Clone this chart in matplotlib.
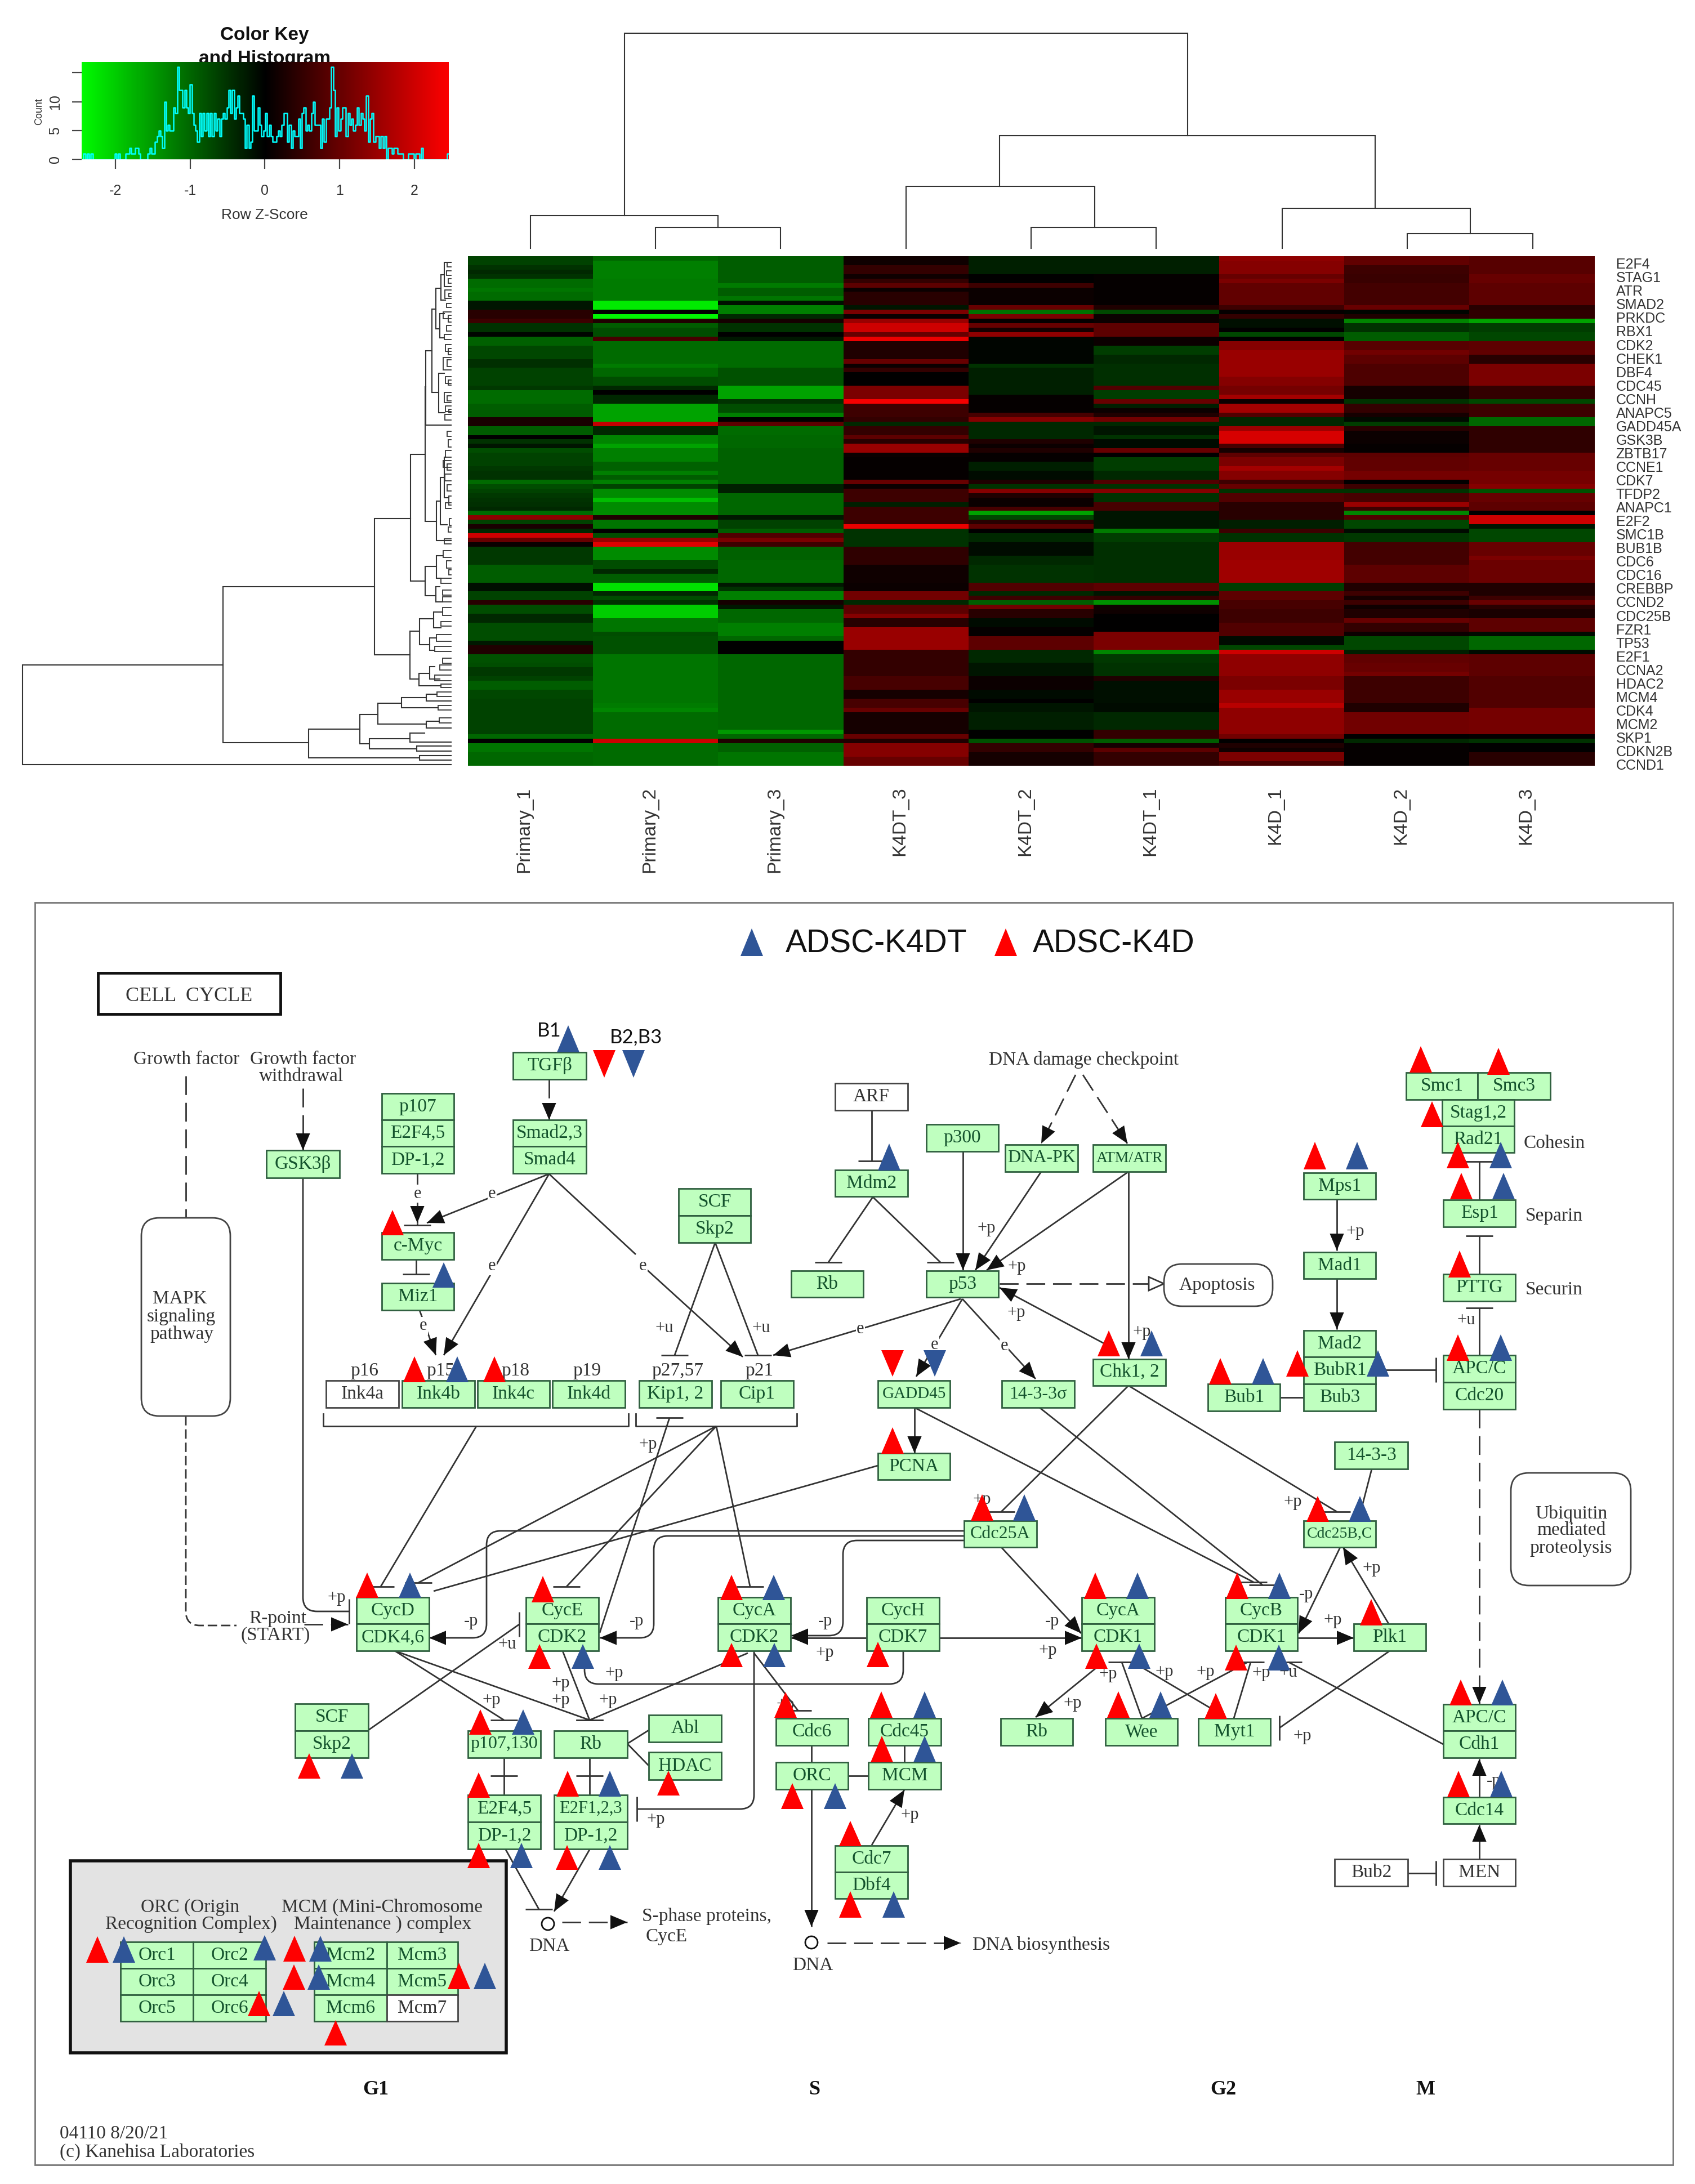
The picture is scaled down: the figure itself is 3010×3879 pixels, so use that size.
import numpy as np
import matplotlib
matplotlib.use("Agg")
import matplotlib.pyplot as plt
from matplotlib.colors import LinearSegmentedColormap
from matplotlib.patches import FancyBboxPatch, Circle, Rectangle, PathPatch
from matplotlib.path import Path

W, H = 3010, 3879

# heatmap values, row z-score, one list per column (top row first)
primary_1 = [-.65,-.65,-.5,-.4,-.5,-1.05,-1.05,-1.15,-1.05,-1.05,
 -.2,-.2,.4,.4,.6,-.5,-.5,-.05,-.95,-.95,
 -.7,-.7,-.7,-.45,-.45,-.65,-.65,-.65,-.65,-.55,
 -1.05,-1.05,-1.05,-.9,-.9,-.9,.25,.25,-.9,-.9,
 0,-.5,-.2,-.75,-.65,-.65,-.65,-.55,-.5,-.5,
 -1.05,-.75,-.65,-.55,-.5,-.45,-.4,-1.05,1.4,-.65,
 .25,-.4,2.0,1.0,.1,-.55,-.55,-.55,-.55,-.9,
 -.9,-.9,-.9,-.15,-.15,-.65,-.65,.4,-.75,-.75,
 -.4,-.4,-.75,-.75,-.75,-.75,-.25,.3,.3,-.8,
 -.8,-.75,-.55,-.55,-.65,-.9,-.9,-.7,-.7,-.65,
 -.65,-.65,-.65,-.65,-.65,-.65,-.65,-1,0,-1.15,-1.15,-1,-1,-1]
primary_2 = [-1,-1.25,-1.25,-1.25,-1.25,-1.2,-1.2,-1.2,-1.2,-1.2,
 -2.3,-2.3,0,-2.4,.3,-.9,-.75,-.75,.7,-1.05,
 -1.05,-1.05,-1.05,-1.05,-1.2,-1,-1,-.75,-.75,-.4,
 0,-.4,-.4,-1.6,-1.6,-1.6,-1.6,1.9,-.4,-.4,
 -1.3,-1.3,-1.6,-1.25,-1.25,-1.25,-.95,-.95,-1.25,-.9,
 -1.25,-.65,-1.35,-1.35,-1.85,-1.35,-1.35,-1.35,.3,-1.15,
 -1.15,0,-.75,1.5,2.2,-1.35,-1.35,-1.35,-.75,-.75,
 -.4,-.9,-.9,-2.2,-2.2,-.4,-.75,-.5,-2,-2,
 -2,-1.15,-1.15,-1.15,-.75,-.8,-.8,-.8,-.8,-1.15,
 -1.15,-1.15,-1.15,-1.15,-1.15,-1.15,-1.15,-1.15,-1.15,-1.15,
 -1.2,-1.3,-1.05,-1.05,-1.05,-1.05,-1.05,-1.05,2.0,-1.05,-1.05,-1.05,-1.05,-1.05]
primary_3 = [-.9,-.9,-.9,-.9,-.9,-.9,-1.2,-.9,-.9,-1.15,
 -.15,-1.25,-1.25,-.4,.2,-.5,-.5,0,-.25,-1.05,
 -1.05,-1.05,-1.05,-1.05,-1.05,-.8,-.8,-.8,-.8,-1.6,
 -1.6,-1.6,-.5,-.75,-.75,-1.25,0,.9,-1.05,-1.05,
 -1,-1,-1,-.95,-.95,-.95,-.95,-.95,-.95,-.95,
 -.95,-.3,-.3,-1,-1,-1,-1,-1,-.25,-.65,
 -.65,-.9,.8,1.2,.6,-.95,-.95,-.95,-1,-1,
 -1,-1,-1,-.25,-.5,-1.25,-1.25,.2,-.25,-1,
 -1,-1,-1.25,-1.25,-1.25,-1,0,0,0,-1,
 -1,-1,-1,-1,-1,-1,-1,-1,-1,-1,
 -1,-1,-1,-1,-1,-1,-1.5,-1,.3,-.95,-.95,-1.15,-1.15,-1.15]
k4dt_3 = [.15,.15,.5,.5,.15,.5,.9,.1,.4,.4,
 .4,-.2,1.2,.1,1.5,2,2,1,2.3,.3,
 .3,.3,.3,1,.1,.5,0,0,0,1.2,
 1.2,1.2,2.4,.6,.6,.6,.5,-.4,.5,.5,
 .9,.4,1.5,1.5,.1,.05,.05,.05,.05,.05,
 1,.1,.6,.6,.6,-.3,.6,.6,.6,.6,
 2.3,-.5,-.5,-.5,-.5,.45,.45,.45,.45,.15,
 .15,.15,.15,.1,.1,1.1,1.1,-.4,.9,.9,
 1.3,.4,.4,1.5,1.5,1.5,1.5,1.5,.5,.5,
 .5,.5,.5,.5,.7,.7,.7,.2,.2,.7,
 .7,1,.2,.2,.2,.2,.2,1,.3,1.3,1.3,1.3,1,1]
k4dt_2 = [-.3,-.3,-.3,-.3,0,0,.6,.1,.1,.1,
 .1,1,-1.1,1.2,.05,1,.2,1.4,-.05,-.05,
 -.05,-.05,-.05,-.05,-.5,-.3,-.3,-.3,-.3,-.3,
 -.3,.05,.05,.05,.05,.7,1.3,-.4,-.4,-.4,
 -.4,.3,.1,.3,.05,.05,-.3,-.3,-.1,-.1,
 .3,-.5,1.3,.3,.1,.1,.7,-1.6,-.7,.4,
 .9,0,-.4,-.4,-.1,-.1,-.1,-.4,-.4,-.5,
 -.5,-.5,-.5,.8,.8,-.4,.6,-.9,1.1,.4,
 .4,-.1,-.1,.05,.05,.9,.9,.9,-.4,-.4,
 -.4,-.2,-.2,-.2,.1,.1,.1,-.1,-.1,0,
 -.2,-.2,-.3,-.3,-.3,-.3,0,0,-.8,.5,.5,.2,.2,.2]
k4dt_1 = [-.3,-.3,-.3,-.3,.05,.05,.05,.05,.05,.05,
 .05,.3,-.7,.1,.1,.9,.9,.9,.1,.1,
 -.6,-.6,-.4,-.4,-.45,-.45,-.45,-.45,-.45,.8,
 -.6,-.6,1,-.3,.1,.3,1.1,-.4,-.2,-.2,
 -.5,-.1,-.1,1,0,-.6,-.6,-.6,-.4,-.4,
 .8,-.5,1.3,-.5,-.5,.7,.7,-.2,-.2,-.2,
 -.2,-1.2,-.6,-.6,-.45,-.45,-.45,-.45,-.45,-.45,
 -.45,-.45,-.45,.9,.9,-.2,.5,-1.4,.15,.15,
 0,0,0,0,1.2,1.2,1.2,1.2,-1.3,-.55,
 -.55,-.5,-.5,-.5,.3,-.15,-.15,-.15,-.15,-.15,
 -.1,-.1,-.4,-.4,-.4,-.4,.5,.5,-.9,.2,.9,.5,.5,.5]
k4d_1 = [1.4,1.3,1.3,1.3,1,1.2,.95,.95,.95,.95,
 .95,.6,.05,.5,-.15,-.15,0,-.7,0,1.3,
 1.3,1.5,1.5,1.5,1.5,1.5,1.5,1.3,1.3,1.15,
 1.15,1.6,.1,1.6,1.6,.8,-.4,-.4,1.5,2.1,
 2.1,2.1,.7,.2,.9,1.2,1.2,1.6,1.3,1.3,
 .6,1,-.5,.8,.8,.4,.4,.4,.4,-.3,
 -.3,.6,-.5,-.5,1.5,1.5,1.5,1.5,1.55,1.55,
 1.55,1.55,1.55,-.6,-.6,.9,.9,.7,.7,.6,
 .6,.6,.8,.8,.8,-.1,-.1,-.7,2,1.4,
 1.4,1.4,1.4,1.4,1.2,1.2,1.2,1.5,1.5,1.5,
 1.8,1.4,1.4,1.4,1.4,1.4,1.4,1.1,0,.3,.15,1.2,1.2,.7]
k4d_2 = [.95,.95,.6,.6,.55,.55,.65,.65,.65,.65,
 .65,1,-.05,.3,-1.3,-.5,-.5,-.9,-.9,.85,
 .85,1.1,.9,.9,.75,.75,.75,.75,.75,.2,
 .2,.2,-.5,.5,.5,.2,-.1,-.6,.4,.1,
 .1,.1,.05,.05,.9,.95,.95,.95,1.15,1.15,
 0,.6,-.5,.7,.7,1.5,.6,-1.3,.8,-.7,
 -.7,-.1,-.55,-.55,.65,.65,.65,.65,.65,.9,
 .9,.9,.9,.3,.3,.6,.2,.6,.15,.3,
 .3,1,.5,.5,.1,-.7,-.7,-.7,-.3,.95,
 .95,1,1,1.15,.6,.6,.6,.6,.6,.6,
 .3,.3,1.1,1.1,1.1,1.1,1.1,0,-.4,.05,.05,.05,.05,.05]
k4d_3 = [.85,.85,.85,.85,1,1,.9,.9,.9,.9,
 .9,.4,.45,.45,-1.6,-.6,-.6,-.7,-.7,.9,
 .9,.95,.4,.4,1.2,1.2,1.2,1.2,1.2,.5,
 .5,.5,-.7,.6,.6,.6,-1,-1,.45,.45,
 .45,.45,.45,.45,1,1,1,1,1.15,1.15,
 1.15,1.3,-.8,1,1,.9,.9,0,2,2,
 -.2,-.7,-.7,-.7,1,1,1,1.2,1.05,1.05,
 1.05,1.05,1.05,.3,.3,.3,.6,1,.4,.25,
 .25,.9,.9,.9,-.1,-1,-1,-1,-.1,.9,
 .9,.9,.9,.9,.8,.8,.8,.8,.8,.8,
 .8,1.15,1.15,1.15,1.15,1.15,1.15,.05,-.5,0,0,.4,.4,.4]

sample_names = ["Primary_1", "Primary_2", "Primary_3", "K4DT_3", "K4DT_2", "K4DT_1", "K4D_1", "K4D_2", "K4D_3"]
gene_names = ["E2F4", "STAG1", "ATR", "SMAD2", "PRKDC", "RBX1", "CDK2", "CHEK1", "DBF4", "CDC45", "CCNH", "ANAPC5",
              "GADD45A", "GSK3B", "ZBTB17", "CCNE1", "CDK7", "TFDP2", "ANAPC1", "E2F2", "SMC1B", "BUB1B", "CDC6",
              "CDC16", "CREBBP", "CCND2", "CDC25B", "FZR1", "TP53", "E2F1", "CCNA2", "HDAC2", "MCM4", "CDK4", "MCM2",
              "SKP1", "CDKN2B", "CCND1"]

# colour key histogram, counts per bin
hist_counts = [0,1,0,1,0,1,0,0,0,0, 0,0,0,0,0,0,0,0,1,0, 1,0,0,0,1,1,2,1,1,2, 2,1,0,0,0,0,1,2,1,1,
 3,4,5,4,2,10,5,6,5,5, 9,8,16,12,12,9,12,9,8,13, 8,6,5,3,8,4,8,5,8,4, 8,4,8,5,7,4,7,8,7,9,
 12,8,12,7,9,11,8,8,7,2, 6,2,3,11,5,5,9,6,4,5, 8,4,6,4,3,3,4,5,4,6, 8,8,3,6,2,5,4,4,7,2,
 8,9,5,6,5,8,10,6,6,6, 2,7,3,7,7,9,16,12,4,9, 5,7,9,9,4,8,6,7,5,6, 9,6,8,7,5,11,3,7,8,3,
 4,4,2,4,2,4,0,2,2,1, 2,2,1,1,1,0,0,0,1,1, 1,0,1,1,0,2,0,0,0,0, 0,0,0,0,0,0,0,0,0,1]

# column dendrogram: left x, right x, height, left end, right end
col_tree = [(1109,2109,59,383,241), (942,1275,383,441,404), (1164,1386,404,441,441), (1775,2442,241,331,370),
            (1609,1944,331,441,404), (1831,2053,404,441,441), (2277,2611,370,441,415), (2499,2722,415,441,441)]

# row dendrogram, in a 1568x1568 frame: x, top y, bottom y, top end, bottom end
row_tree = [(73,1240,1532,730,1478), (730,1010,1468,1227,1010), (1227,810,1210,1345,1343), (1345,622,993,1392,1392),
            (1392,425,818,1395,1430), (1395,318,537,1415,1478), (1415,197,440,1428,1437), (1428,135,255,1445,1440),
            (1445,95,170,1455,1460), (1455,60,130,1478,1478), (1440,210,280,1455,1455), (1437,385,500,1455,1458),
            (1430,760,875,1443,1478), (1443,690,828,1455,1465), (1455,630,750,1460,1470), (1392,950,1037,1430,1428),
            (1430,920,985,1450,1445), (1428,1010,1055,1440,1450), (1343,1140,1280,1375,1372), (1375,1105,1180,1420,1408),
            (1420,1085,1130,1450,1445), (1408,1160,1197,1430,1425), (1372,1265,1300,1408,1445), (1408,1245,1280,1425,1440),
            (1010,1428,1512,1178,1375), (1178,1385,1470,1238,1210), (1238,1352,1413,1315,1397), (1315,1335,1365,1397,1435),
            (1397,1325,1345,1432,1478), (1397,1405,1425,1438,1478), (1210,1455,1485,1343,1365), (1343,1440,1465,1390,1478),
            (1365,1478,1492,1478,1478), (1375,1505,1518,1478,1478)]
leaf_pairs = [(1465,60,72),(1462,85,98),(1468,108,120),(1458,140,165),(1470,150,160),(1462,180,192),(1452,205,225),
              (1468,215,235),(1462,245,260),(1455,270,285),(1460,300,320),(1468,312,330),(1452,338,375),(1465,345,365),
              (1460,395,415),(1468,405,420),(1455,440,470),(1465,450,465),(1460,480,497),(1470,490,500),(1458,505,522),
              (1465,555,570),(1468,580,600),(1460,610,630),(1452,640,660),(1465,650,668),(1458,680,700),(1465,712,730),
              (1470,745,770),(1460,765,780),(1472,810,830),(1468,835,850),(1455,870,885),(1452,905,925),(1462,935,955),
              (1470,960,975),(1445,985,1000),(1450,1020,1035),(1450,1040,1055),(1450,1072,1095),(1445,1112,1125),
              (1430,1150,1170),(1425,1185,1200),(1450,1220,1235),(1440,1240,1255),(1425,1270,1285),(1445,1295,1305),
              (1432,1318,1332),(1435,1358,1372),(1438,1395,1410)]

# pathway nodes: x0, x1, y0, y1, label
green_boxes = [
    (473,603,2043,2092,"GSK3β"), (678,806,1942,1989,"p107"), (678,806,1989,2036,"E2F4,5"), (678,806,2036,2084,"DP-1,2"),
    (911,1041,1869,1917,"TGFβ"), (911,1041,1989,2036,"Smad2,3"), (911,1041,2036,2084,"Smad4"),
    (678,806,2189,2237,"c-Myc"), (678,806,2279,2327,"Miz1"), (1205,1333,2111,2159,"SCF"), (1205,1333,2159,2207,"Skp2"),
    (714,843,2452,2500,"Ink4b"), (848,976,2452,2500,"Ink4c"), (981,1110,2452,2500,"Ink4d"),
    (1135,1264,2452,2500,"Kip1, 2"), (1280,1409,2452,2500,"Cip1"),
    (1483,1612,2078,2125,"Mdm2"), (1645,1773,1997,2045,"p300"), (1785,1914,2033,2081,"DNA-PK"), (1941,2070,2033,2081,"ATM/ATR"),
    (1405,1533,2257,2304,"Rb"), (1645,1773,2257,2304,"p53"), (1941,2070,2414,2461,"Chk1, 2"), (1559,1687,2452,2500,"GADD45"),
    (1779,1908,2452,2500,"14-3-3σ"), (1559,1687,2581,2628,"PCNA"), (2315,2443,2083,2130,"Mps1"), (2315,2443,2224,2271,"Mad1"),
    (2315,2443,2363,2410,"Mad2"), (2315,2443,2410,2458,"BubR1"), (2315,2443,2458,2506,"Bub3"), (2145,2273,2458,2506,"Bub1"),
    (2497,2624,1905,1953,"Smc1"), (2624,2753,1905,1953,"Smc3"), (2561,2689,1953,2000,"Stag1,2"), (2561,2689,2000,2047,"Rad21"),
    (2563,2691,2131,2179,"Esp1"), (2563,2691,2263,2311,"PTTG"), (2563,2691,2407,2455,"APC/C"), (2563,2691,2455,2503,"Cdc20"),
    (2370,2500,2561,2609,"14-3-3"),
    (633,762,2837,2884,"CycD"), (633,762,2884,2932,"CDK4,6"), (934,1063,2837,2884,"CycE"), (934,1063,2884,2932,"CDK2"),
    (1275,1404,2837,2884,"CycA"), (1275,1404,2884,2932,"CDK2"), (524,654,3026,3074,"SCF"), (524,654,3074,3122,"Skp2"),
    (831,960,3074,3122,"p107,130"), (984,1114,3074,3122,"Rb"), (1152,1281,3046,3094,"Abl"), (1152,1281,3112,3161,"HDAC"),
    (831,960,3188,3236,"E2F4,5"), (831,960,3236,3284,"DP-1,2"), (984,1114,3188,3236,"E2F1,2,3"), (984,1114,3236,3284,"DP-1,2"),
    (1378,1506,3052,3100,"Cdc6"), (1378,1506,3130,3178,"ORC"), (1542,1671,3052,3100,"Cdc45"), (1542,1671,3130,3178,"MCM"),
    (1483,1612,3278,3325,"Cdc7"), (1483,1612,3325,3372,"Dbf4"), (1539,1668,2837,2884,"CycH"), (1539,1668,2884,2932,"CDK7"),
    (1712,1841,2701,2748,"Cdc25A"), (2315,2443,2701,2748,"Cdc25B,C"), (1921,2050,2837,2884,"CycA"), (1921,2050,2884,2932,"CDK1"),
    (2176,2304,2837,2884,"CycB"), (2176,2304,2884,2932,"CDK1"), (2404,2532,2884,2932,"Plk1"), (1777,1905,3052,3100,"Rb"),
    (1963,2091,3052,3100,"Wee"), (2128,2256,3052,3100,"Myt1"), (2563,2691,3027,3074,"APC/C"), (2563,2691,3074,3122,"Cdh1"),
    (2563,2691,3192,3239,"Cdc14"),
    (214,343,3449,3496,"Orc1"), (343,472,3449,3496,"Orc2"), (214,343,3496,3543,"Orc3"), (343,472,3496,3543,"Orc4"),
    (214,343,3543,3590,"Orc5"), (343,472,3543,3590,"Orc6"), (558,687,3449,3496,"Mcm2"), (687,813,3449,3496,"Mcm3"),
    (558,687,3496,3543,"Mcm4"), (687,813,3496,3543,"Mcm5"), (558,687,3543,3590,"Mcm6"),
]
white_boxes = [(579,708,2452,2500,"Ink4a"), (1483,1612,1924,1972,"ARF"), (2370,2500,3302,3350,"Bub2"),
               (2563,2691,3302,3350,"MEN"), (687,813,3543,3590,"Mcm7")]
rounded_boxes = [(251,409,2163,2515), (2067,2260,2245,2320), (2683,2896,2616,2816)]

# triangles: centre x, apex y, base y
red_up = [(697,2149,2194),(736,2409,2455),(878,2409,2455),(1585,2535,2582),(1969,2363,2409),(2335,2028,2077),
          (2523,1858,1905),(2661,1861,1909),(2543,1956,2002),(2589,2028,2075),(2595,2083,2130),(2592,2221,2269),
          (2589,2370,2417),(2304,2398,2445),(2167,2412,2459),(1744,2654,2701),(2340,2657,2703),(652,2793,2838),
          (964,2799,2846),(958,2920,2964),(1299,2797,2842),(1299,2918,2961),(549,3114,3159),(853,3036,3081),
          (850,3148,3193),(1008,3145,3191),(850,3273,3318),(1007,3277,3321),(1187,3145,3189),(173,3439,3486),
          (523,3438,3484),(522,3489,3534),(815,3486,3533),(460,3536,3581),(596,3588,3633),(1395,3005,3051),
          (1407,3167,3213),(1559,2916,2961),(1565,3004,3051),(1566,3083,3130),(1510,3234,3279),(1510,3359,3406),
          (1945,2793,2840),(1947,2919,2964),(2197,2793,2840),(2195,2921,2967),(2435,2840,2887),(1986,3004,3051),
          (2159,3007,3053),(2594,2983,3029),(2590,3145,3192),(1786,1649,1698)]
blue_up = [(1009,1821,1869),(788,2242,2287),(812,2409,2455),(1579,2031,2079),(2045,2363,2409),(2410,2028,2077),
           (2665,2028,2075),(2670,2083,2130),(2665,2370,2417),(2447,2398,2445),(2243,2412,2459),(1819,2654,2701),
           (2415,2657,2703),(728,2793,2838),(1035,2920,2964),(1374,2797,2842),(1375,2918,2961),(625,3114,3159),
           (929,3036,3081),(1083,3145,3191),(926,3273,3318),(1083,3277,3321),(220,3439,3486),(470,3437,3482),
           (569,3438,3484),(566,3489,3534),(861,3486,3533),(504,3536,3581),(1483,3167,3213),(1642,3004,3051),
           (1642,3083,3130),(1587,3359,3406),(2020,2793,2840),(2023,2919,2964),(2272,2793,2840),(2271,2921,2967),
           (2061,3004,3051),(2668,2983,3029),(2666,3145,3192),(1335,1649,1698)]
red_down = [(1073,1865,1914),(1585,2398,2445)]
blue_down = [(1125,1865,1914),(1660,2398,2445)]

# edges: kind, x0, y0, x1, y1. a arrow, h/v flat bar, l plain, d dashed, da dashed arrow
edges = [
    ("d",330,1911,330,2163), ("da",538,1933,538,2043), ("da",975,1917,975,1989), ("l",741,2084,741,2120),
    ("a",741,2120,741,2172), ("h",741,2172,741,2176), ("a",975,2085,758,2172), ("a",975,2085,788,2407), ("l",975,2085,1129,2228),
    ("a",1142,2249,1319,2410), ("h",739,2237,739,2263), ("a",745,2327,774,2407), ("h",1270,2207,1198,2407),
    ("h",1270,2207,1346,2407), ("a",1706,2307,1373,2407), ("h",846,2533,676,2818), ("h",1272,2533,743,2811),
    ("h",1272,2533,1006,2818), ("h",1272,2533,1332,2818), ("h",1065,2900,1189,2518), ("l",1559,2603,770,2826),
    ("a",1539,2909,1405,2909), ("a",1668,2909,1921,2909), ("a",1778,2748,1920,2901), ("h",2004,2461,1778,2685),
    ("h",2004,2461,2374,2685), ("a",2004,2081,2004,2414), ("l",2436,2609,2415,2690), ("h",1624,2500,2226,2810),
    ("h",1846,2500,2242,2815), ("a",1624,2500,1624,2581), ("a",1709,2307,1627,2445), ("a",1709,2307,1839,2449),
    ("a",1966,2389,1775,2287), ("h",1550,2126,1471,2242), ("h",1550,2126,1670,2242), ("h",1548,1972,1548,2062),
    ("a",1710,2045,1710,2256), ("a",1849,2081,1732,2256), ("a",2004,2081,1752,2256), ("da",1910,1909,1849,2031),
    ("da",1923,1909,2002,2031), ("a",2374,2131,2374,2221), ("a",2374,2271,2374,2361), ("l",2273,2482,2315,2482),
    ("v",2443,2433,2550,2433), ("h",2627,2407,2627,2323), ("h",2627,2263,2627,2195), ("h",2627,2131,2627,2063),
    ("da",2627,2503,2627,3026), ("h",2563,3098,2288,2952), ("a",2627,3191,2627,3124), ("a",2627,3302,2627,3241),
    ("v",2500,3327,2550,3327), ("a",2466,2884,2385,2748), ("a",2380,2748,2306,2901), ("a",2304,2909,2404,2909),
    ("v",2468,2932,2272,3069), ("a",1947,2962,1839,3050), ("h",2028,3052,1992,2952), ("h",2028,3052,2216,2952),
    ("h",2191,3052,2221,2952), ("h",2150,3034,2012,2952), ("h",701,2932,895,3055), ("h",701,2932,1047,3055),
    ("h",999,2932,1047,3055), ("h",1328,2936,1047,3055), ("v",654,3073,922,2885), ("h",1339,2936,1417,3038),
    ("h",895,3122,895,3154), ("l",895,3154,895,3188), ("h",1047,3122,1047,3154), ("l",1047,3154,1047,3188),
    ("l",1152,3073,1114,3097), ("l",1152,3136,1114,3097), ("l",1441,3100,1441,3130), ("a",1441,3178,1441,3422),
    ("l",1506,3154,1542,3154), ("l",1606,3100,1606,3130), ("a",1548,3277,1606,3179), ("da",1469,3451,1706,3451),
    ("h",898,3285,957,3391), ("a",1047,3285,984,3395), ("da",998,3414,1114,3414), ("da",540,2885,618,2885),
]
# rounded lines: corner points, end kind, dashed
routes = [
    ([(330,2515),(330,2887),(420,2887)], "l", True),
    ([(538,2092),(538,2862),(620,2862)], "v", False),
    ([(1712,2719),(864,2719),(864,2909),(762,2909)], "a", False),
    ([(1712,2728),(1161,2728),(1161,2909),(1065,2909)], "a", False),
    ([(1712,2736),(1497,2736),(1497,2905),(1405,2905)], "a", False),
    ([(1604,2932),(1604,2991),(1038,2991),(1038,2964)], "l", False),
    ([(1339,2932),(1339,3213),(1131,3213)], "v", False),
]
brackets = [(574,1116,2511,2533), (1129,1415,2511,2533)]

# small labels: x, y, text
serif_labels = [
    (331,1882,"Growth factor"), (538,1882,"Growth factor"), (535,1912,"withdrawal"), (319,2307,"MAPK"), (322,2339,"signaling"),
    (323,2370,"pathway"), (493,2875,"R-point"), (489,2905,"(START)"), (647,2435,"p16"), (782,2435,"p15"), (915,2435,"p18"),
    (1042,2435,"p19"), (1203,2435,"p27,57"), (1348,2435,"p21"), (1925,1882,"DNA damage checkpoint"), (2161,2283,"Apoptosis"),
    (2790,2688,"Ubiquitin"), (2790,2718,"mediated"), (2790,2750,"proteolysis"), (338,3388,"ORC (Origin"),
    (339,3418,"Recognition Complex)"), (678,3388,"MCM (Mini-Chromosome"), (680,3418,"Maintenance ) complex"),
    (975,3457,"DNA"), (1443,3491,"DNA"), (2760,2031,"Cohesin"), (2760,2160,"Separin"), (2760,2291,"Securin"),
]
left_labels = [(1140,3404,"S-phase proteins,"), (1147,3440,"CycE"), (1727,3455,"DNA biosynthesis"),
               (106,3790,"04110 8/20/21"), (106,3822,"(c) Kanehisa Laboratories")]
phase_labels = [(667,3712,"G1"), (1446,3712,"S"), (2172,3712,"G2"), (2531,3712,"M")]
mod_labels = [
    (1180,2358,"+u"), (1352,2358,"+u"), (1752,2182,"+p"), (1806,2249,"+p"), (1805,2332,"+p"), (2028,2365,"+p"), (2407,2188,"+p"),
    (2604,2344,"+u"), (1151,2565,"+p"), (1744,2664,"+p"), (2296,2667,"+p"), (598,2838,"+p"), (837,2879,"-p"), (1131,2879,"-p"),
    (1466,2879,"-p"), (1869,2879,"-p"), (2320,2832,"-p"), (2367,2877,"+p"), (2436,2785,"+p"), (901,2920,"+u"), (1091,2971,"+p"),
    (1465,2936,"+p"), (1861,2932,"+p"), (873,3020,"+p"), (996,3020,"+p"), (996,2989,"+p"), (1080,3020,"+p"), (1165,3232,"+p"),
    (1395,3028,"+p"), (1616,3224,"+p"), (1905,3025,"+p"), (1968,2973,"+p"), (2068,2970,"+p"), (2141,2970,"+p"), (2240,2971,"+p"),
    (2288,2971,"+u"), (2313,3083,"+p"), (2653,3163,"-p"),
]
e_labels = [(741,2120), (874,2120), (874,2249), (1142,2249), (752,2355), (1528,2360), (1660,2389), (1783,2391)]
dna_circles = [(973,3417), (1441,3450)]

# font sizes for the labels that are squeezed into their box
squeezed = {"ATM/ATR": 20, "GADD45": 21, "Cdc25B,C": 20, "E2F1,2,3": 22, "p107,130": 23, "DNA-PK": 23, "14-3-3σ": 23, "Cdc25A": 23}

plt.rcParams["font.family"] = ["Liberation Serif", "DejaVu Serif"]
ink = "#333333"
fig = plt.figure(figsize=(W / 100, H / 100), dpi=100)

def axes_px(x0, y0, x1, y1):
    return fig.add_axes([x0 / W, 1 - y1 / H, (x1 - x0) / W, (y1 - y0) / H])

ax = fig.add_axes([0, 0, 1, 1])
ax.set_xlim(0, W)
ax.set_ylim(H, 0)
ax.axis("off")

# colour key
ax.text(470, 63, "Color Key", family="Liberation Sans", weight="bold", fontsize=24, ha="center", va="center", color="#111111")
ax.text(470, 104, "and Histogram", family="Liberation Sans", weight="bold", fontsize=24, ha="center", va="center", color="#111111")
ax.text(470, 382, "Row Z-Score", family="Liberation Sans", fontsize=19, ha="center", va="center", color=ink)
ax.text(70, 198, "Count", family="Liberation Sans", fontsize=13, rotation=90, ha="center", va="center", color=ink)

cmap = LinearSegmentedColormap.from_list("gbr", ["#00ff00", "#000000", "#ff0000"])
key = axes_px(145, 110, 797, 283)
key_left, key_right = -2.45, 2.46
key.imshow(np.linspace(key_left, key_right, 256)[None, :], extent=(key_left, key_right, 0, 16.9), aspect="auto",
           cmap=cmap, vmin=-2.5, vmax=2.5)
bin_edges = np.linspace(key_left, key_right, len(hist_counts) + 1)
key.step(bin_edges, list(hist_counts) + [hist_counts[-1]], where="post", color="#00ffff", lw=1.8)
key.set_xlim(key_left, key_right)
key.set_ylim(0, 16.9)
for s in key.spines.values():
    s.set_visible(False)
key.set_xticks([-2, -1, 0, 1, 2])
key.set_xticklabels(["-2", "-1", "0", "1", "2"], family="Liberation Sans", fontsize=18, color=ink)
key.set_yticks([0, 5, 10, 15])
key.set_yticklabels(["0", "5", "10", ""], family="Liberation Sans", fontsize=18, color=ink, rotation=90, va="center")
key.tick_params(length=12, width=1.6, color="#444444")
key.tick_params(axis="x", pad=20)
key.tick_params(axis="y", pad=13)

# heatmap
z = np.array([primary_1, primary_2, primary_3, k4dt_3, k4dt_2, k4dt_1, k4d_1, k4d_2, k4d_3]).T
hm = axes_px(831, 455, 2832, 1360)
hm.imshow(z, aspect="auto", cmap=cmap, vmin=-2.5, vmax=2.5, interpolation="nearest")
for s in hm.spines.values():
    s.set_visible(False)
hm.set_xticks(np.arange(len(sample_names)) - 0.05)
hm.set_xticklabels(sample_names, rotation=90, family="Liberation Sans", fontsize=24, color=ink)
hm.yaxis.tick_right()
hm.set_yticks(np.linspace(1.1, 113.2, len(gene_names)))
hm.set_yticklabels(gene_names, family="Liberation Sans", fontsize=18, color=ink)
hm.tick_params(axis="x", length=0, pad=27)
hm.tick_params(axis="y", length=0, pad=27)
hm.set_xlim(-0.5, len(sample_names) - 0.5)

# dendrograms
for xl, xr, yt, el, er in col_tree:
    ax.plot([xl, xl, xr, xr], [el, yt, yt, er], color=ink, lw=1.5, solid_joinstyle="miter")
rd = axes_px(0, 430, 850, 1380)
rd.set_xlim(0, 1568)
rd.set_ylim(1568, 0)
rd.axis("off")
for x, yt, yb, et, eb in row_tree:
    rd.plot([et, x, x, eb], [yt, yt, yb, yb], color=ink, lw=1.5, solid_joinstyle="miter")
for x, yt, yb in leaf_pairs:
    rd.plot([1478, x, x, 1478], [yt, yt, yb, yb], color=ink, lw=1.3, solid_joinstyle="miter")

# pathway panel
ax.add_patch(Rectangle((62, 1603), 2909, 2242, fc="white", ec="#777777", lw=2, zorder=0))
ax.add_patch(Rectangle((174, 1728), 324, 73, fc="white", ec="#111111", lw=3.5, zorder=1))
ax.text(336, 1770, "CELL  CYCLE", fontsize=26, ha="center", va="center", color=ink, zorder=5)
ax.add_patch(Rectangle((125, 3305), 774, 341, fc="#e3e3e3", ec="#111111", lw=4, zorder=1))
ax.text(1395, 1676, "ADSC-K4DT", family="Liberation Sans", fontsize=41, ha="left", va="center", color="#111111")
ax.text(1834, 1676, "ADSC-K4D", family="Liberation Sans", fontsize=41, ha="left", va="center", color="#111111")
ax.text(975, 1831, "B1", family="Lato", fontsize=25, ha="center", va="center", color="#111111")
ax.text(1130, 1842, "B2,B3", family="Lato", fontsize=25, ha="center", va="center", color="#111111")

line_kw = dict(color=ink, lw=2, zorder=2, solid_capstyle="butt")
dash_kw = dict(color=ink, lw=2, zorder=2, dashes=(12, 5))

def arrow_head(x0, y0, x1, y1, size=30, color="#111111"):
    d = np.array([x1 - x0, y1 - y0], dtype=float)
    d = d / np.hypot(*d)
    n = np.array([-d[1], d[0]])
    tip = np.array([x1, y1], dtype=float)
    pts = np.array([tip, tip - d * size + n * size * 0.42, tip - d * size - n * size * 0.42])
    ax.fill(pts[:, 0], pts[:, 1], color=color, lw=0, zorder=3)

def end_mark(kind, x0, y0, x1, y1):
    if kind == "a" or kind == "da":
        arrow_head(x0, y0, x1, y1)
    elif kind == "h":
        ax.plot([x1 - 24, x1 + 24], [y1, y1], **line_kw)
    elif kind == "v":
        ax.plot([x1, x1], [y1 - 22, y1 + 22], **line_kw)

def rounded_path(points, r=25):
    verts = [points[0]]
    codes = [Path.MOVETO]
    for i in range(1, len(points) - 1):
        p = np.array(points[i], dtype=float)
        a = np.array(points[i - 1], dtype=float)
        b = np.array(points[i + 1], dtype=float)
        ua = (a - p) / np.hypot(*(a - p))
        ub = (b - p) / np.hypot(*(b - p))
        verts += [tuple(p + ua * r), tuple(p), tuple(p + ub * r)]
        codes += [Path.LINETO, Path.CURVE3, Path.CURVE3]
    verts.append(points[-1])
    codes.append(Path.LINETO)
    return Path(verts, codes)

for kind, x0, y0, x1, y1 in edges:
    kw = dash_kw if kind in ("d", "da") else line_kw
    ax.plot([x0, x1], [y0, y1], **kw)
    end_mark(kind, x0, y0, x1, y1)

# open arrow from p53 to apoptosis
ax.plot([1775, 2040], [2280, 2280], **dash_kw)
ax.fill([2067, 2040, 2040], [2280, 2268, 2292], fc="white", ec=ink, lw=2, zorder=3)

for pts, kind, dashed in routes:
    ax.add_patch(PathPatch(rounded_path(pts), fc="none", ec=ink, lw=2, zorder=2, ls=(0, (6, 2.5)) if dashed else "-"))
    end_mark(kind, pts[-2][0], pts[-2][1], pts[-1][0], pts[-1][1])

for x0, x1, y0, y1 in brackets:
    ax.plot([x0, x0, x1, x1], [y0, y1, y1, y0], color=ink, lw=2, zorder=2)

for x0, x1, y0, y1 in rounded_boxes:
    ax.add_patch(FancyBboxPatch((x0, y0), x1 - x0, y1 - y0, boxstyle="round,pad=0,rounding_size=32", fc="white", ec="#444444", lw=2, zorder=3))

for boxes, fill, text_col in [(green_boxes, "#bfffbf", "#14532d"), (white_boxes, "white", "#333333")]:
    for x0, x1, y0, y1, label in boxes:
        ax.add_patch(Rectangle((x0, y0), x1 - x0, y1 - y0, fc=fill, ec="#2f5f3f" if fill != "white" else "#444444", lw=2, zorder=3))
        ax.text((x0 + x1) / 2, (y0 + y1) / 2, label, fontsize=squeezed.get(label, 24), ha="center", va="center", color=text_col, zorder=4)

for x, y, label in serif_labels:
    ax.text(x, y, label, fontsize=24, ha="center", va="center", color=ink, zorder=5)
for x, y, label in left_labels:
    ax.text(x, y, label, fontsize=24, ha="left", va="center", color=ink, zorder=5)
for x, y, label in phase_labels:
    ax.text(x, y, label, fontsize=26, weight="bold", ha="center", va="center", color="#111111", zorder=5)
for x, y, label in mod_labels:
    ax.text(x, y, label, fontsize=22, ha="center", va="center", color=ink, zorder=5)
for x, y in e_labels:
    ax.text(x, y, "e", fontsize=22, ha="center", va="center", color=ink, zorder=5,
            bbox=dict(fc="white", ec="none", pad=1))
for x, y in dna_circles:
    ax.add_patch(Circle((x, y), 11, fc="white", ec="#111111", lw=2, zorder=4))

half = 20
for tris, col in [(red_up, "#ff0000"), (blue_up, "#2f5597")]:
    for cx, apex, base in tris:
        ax.fill([cx - half, cx + half, cx], [base, base, apex], color=col, lw=0, zorder=6)
for tris, col in [(red_down, "#ff0000"), (blue_down, "#2f5597")]:
    for cx, top, apex in tris:
        ax.fill([cx - half, cx + half, cx], [top, top, apex], color=col, lw=0, zorder=6)

fig.savefig("out.png", dpi=100, facecolor="white")
